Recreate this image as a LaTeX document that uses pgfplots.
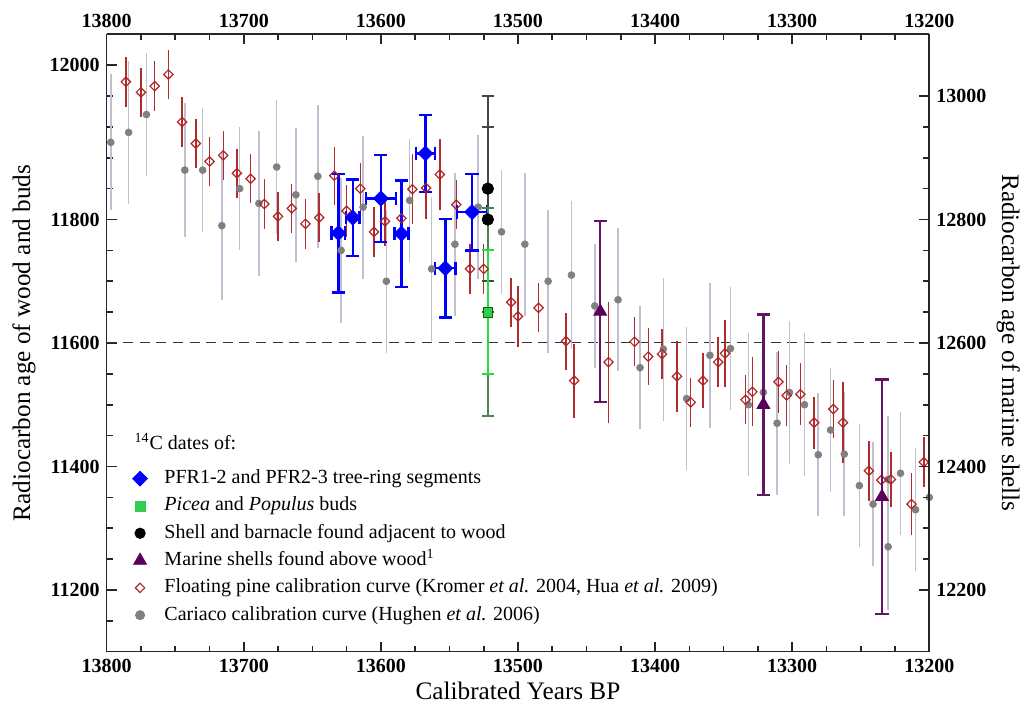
\documentclass[border=0pt]{standalone}
\usepackage{pgfplots}
\pgfplotsset{compat=1.18}
\usepackage{fontspec}
\setmainfont{Liberation Serif}

\definecolor{pinered}{RGB}{178,34,34}
\definecolor{pinebar}{RGB}{175,45,45}
\definecolor{cargray}{RGB}{128,128,128}
\definecolor{carbar}{RGB}{192,192,208}
\definecolor{pfrblue}{RGB}{0,0,255}
\definecolor{budgreen}{RGB}{50,205,80}
\definecolor{budedge}{RGB}{0,110,0}
\definecolor{budbar}{RGB}{40,220,70}
\definecolor{budbardark}{RGB}{80,130,80}
\definecolor{shellbar}{RGB}{70,70,70}
\definecolor{marine}{RGB}{90,0,90}
\definecolor{marinebar}{RGB}{100,20,100}

\pgfplotsset{
  calaxis/.style={
    at={(0pt,0pt)}, anchor=south west,
    width=411.3pt, height=308.7pt, scale only axis,
    x dir=reverse, xmin=13200, xmax=13800,
    xtick={13200,13300,...,13800}, minor x tick num=3,
    scaled x ticks=false, scaled y ticks=false,
    tick align=inside, major tick length=5pt, minor tick length=3pt,
    axis line style={line width=0.8pt, black!85},
    tick style={line width=0.8pt, black!85},
    tick label style={font=\fontsize{10}{12}\selectfont\bfseries},
    /pgf/number format/1000 sep={},
    /pgf/number format/assume math mode=true,
  },
}

\begin{document}
\begin{tikzpicture}
\useasboundingbox (-53.35pt,-26.15pt) rectangle (457.15pt,325.85pt);

\begin{axis}[calaxis,
  ymin=11100, ymax=12100,
  axis x line*=bottom, axis y line*=left,
  ytick={11200,11400,11600,11800,12050},
  yticklabels={11200,11400,11600,11800,12000},
  minor ytick={11150,11250,11300,11350,11450,11500,11550,11650,11700,11750,11850,11900,11950,12000},
  xlabel={Calibrated Years BP},
  ylabel={Radiocarbon age of wood and buds},
  every axis x label/.style={at={([yshift=-24pt]rel axis cs:0.5,0)}, anchor=base,
    font=\fontsize{12.6}{15}\selectfont},
  every axis y label/.style={at={([xshift=-38.3pt]rel axis cs:0,0.5)}, rotate=90, anchor=base,
    font=\fontsize{12.6}{15}\selectfont},
  legend style={at={(rel axis cs:0.0299,0.2987)}, anchor=north west, draw=none, fill=none,
    inner sep=0pt, font=\fontsize{10}{12}\selectfont, row sep=2.65pt, column sep=8pt,
    nodes={inner sep=0pt, text height=8pt, text depth=3pt}},
  legend cell align=left,
  legend image code/.code={\path (-4pt,-3pt) (4pt,3pt);
    \draw[#1] plot coordinates {(0pt,0pt)};},
]
% legend entries
\addlegendimage{only marks, mark=square*, mark size=2.6pt, mark options={rotate=45, fill=pfrblue, draw=pfrblue}}
\addlegendentry{PFR1-2 and PFR2-3 tree-ring segments}
\addlegendimage{only marks, mark=square*, mark size=2.5pt, mark options={fill=budgreen, draw=budgreen}}
\addlegendentry{\textit{Picea} and \textit{Populus} buds}
\addlegendimage{only marks, mark=*, mark size=2.6pt, mark options={fill=black, draw=black}}
\addlegendentry{Shell and barnacle found adjacent to wood}
\addlegendimage{only marks, mark=triangle*, mark size=3.7pt, mark options={fill=marine, draw=marine}}
\addlegendentry{Marine shells found above wood\textsuperscript{1}}
\addlegendimage{only marks, mark=square, mark size=1.65pt, mark options={rotate=45, draw=pinered, line width=0.6pt}}
\addlegendentry{Floating pine calibration curve (Kromer \textit{et al.} 2004, Hua \textit{et al.} 2009)}
\addlegendimage{only marks, mark=*, mark size=2.3pt, mark options={fill=cargray, draw=cargray}}
\addlegendentry{Cariaco calibration curve (Hughen \textit{et al.} 2006)}

% 11600 reference line
\addplot[forget plot, black!80, line width=0.5pt, dash pattern=on 5pt off 3.3pt]
  coordinates {(13800,11600) (13200,11600)};

% Cariaco calibration curve
\addplot[forget plot, only marks, mark=*, mark size=1.7pt, color=cargray,
  error bars/.cd, y dir=both, y explicit, error mark=none,
  error bar style={line width=0.8pt, carbar}]
  coordinates {
  (13797,11925) +- (0,110) (13784,11941) +- (0,116) (13771,11970) +- (0,100)
  (13743,11880) +- (0,108) (13730,11880) +- (0,100) (13716,11790) +- (0,120)
  (13703,11850) +- (0,100) (13689,11826) +- (0,117) (13676,11885) +- (0,108)
  (13662,11840) +- (0,109) (13646,11870) +- (0,116) (13629,11750) +- (0,117)
  (13613,11820) +- (0,116) (13596,11700) +- (0,116) (13579,11831) +- (0,100)
  (13563,11720) +- (0,116) (13546,11760) +- (0,116) (13529,11820) +- (0,117)
  (13512,11780) +- (0,100) (13495,11760) +- (0,116) (13478,11700) +- (0,116)
  (13461,11710) +- (0,120) (13444,11660) +- (0,100) (13427,11670) +- (0,116)
  (13411,11560) +- (0,100) (13394,11590) +- (0,116) (13377,11510) +- (0,116)
  (13360,11580) +- (0,117) (13345,11591) +- (0,100) (13332,11500) +- (0,116)
  (13321,11520) +- (0,100) (13311,11470) +- (0,116) (13302,11520) +- (0,116)
  (13291,11500) +- (0,116) (13281,11419) +- (0,100) (13272,11459) +- (0,100)
  (13262,11420) +- (0,100) (13251,11369) +- (0,100) (13241,11339) +- (0,100)
  (13230,11379) +- (0,102) (13230,11270) +- (0,102) (13221,11389) +- (0,100)
  (13210,11330) +- (0,100) (13200,11350) +- (0,100)
  };

% Floating pine calibration curve
\addplot[forget plot, only marks, mark=square, mark size=1.65pt,
  mark options={rotate=45, draw=pinered, line width=0.6pt},
  error bars/.cd, y dir=both, y explicit, error mark=none,
  error bar style={line width=0.7pt, pinebar}]
  coordinates {
  (13786,12023) +- (0,40) (13775,12006) +- (0,40) (13765,12016) +- (0,40)
  (13755,12035) +- (0,40) (13745,11958) +- (0,40) (13735,11923) +- (0,40)
  (13725,11894) +- (0,40) (13715,11904) +- (0,40) (13705,11875) +- (0,40)
  (13695,11866) +- (0,40) (13685,11825) +- (0,40) (13675,11805) +- (0,40)
  (13665,11818) +- (0,40) (13655,11793) +- (0,40) (13645,11803) +- (0,40)
  (13634,11871) +- (0,47) (13625,11814) +- (0,42) (13615,11850) +- (0,41)
  (13605,11780) +- (0,40) (13597,11797) +- (0,40) (13585,11802) +- (0,40)
  (13577,11849) +- (0,57) (13567,11851) +- (0,50) (13557,11873) +- (0,58)
  (13545,11824) +- (0,40) (13535,11720) +- (0,40) (13525,11720) +- (0,40)
  (13505,11666) +- (0,40) (13500,11643) +- (0,50) (13485,11657) +- (0,40)
  (13465,11603) +- (0,46) (13459,11539) +- (0,60) (13434,11569) +- (0,98)
  (13415,11602) +- (0,40) (13405,11578) +- (0,46) (13395,11582) +- (0,40)
  (13384,11546) +- (0,58) (13374,11504) +- (0,40) (13365,11539) +- (0,45)
  (13354,11569) +- (0,40) (13349,11583) +- (0,55) (13334,11508) +- (0,40)
  (13329,11521) +- (0,56) (13310,11537) +- (0,50) (13304,11515) +- (0,50)
  (13294,11517) +- (0,50) (13284,11471) +- (0,42) (13270,11493) +- (0,47)
  (13263,11471) +- (0,66) (13244,11393) +- (0,49) (13235,11378) +- (0,40)
  (13228,11379) +- (0,45) (13213,11339) +- (0,50) (13204,11407) +- (0,40)
  };

% PFR tree-ring segments
\addplot[forget plot, only marks, mark=square*, mark size=2.6pt,
  mark options={rotate=45, fill=pfrblue, draw=pfrblue},
  error bars/.cd, x dir=both, x explicit, y dir=both, y explicit,
  error bar style={line width=1.2pt, pfrblue},
  error mark options={rotate=90, mark size=3.3pt, line width=1.2pt, draw=pfrblue}]
  coordinates {
  (13631,11778) +- (5,96) (13620.5,11803) +- (5,62) (13600,11834) +- (11,70)
  (13585,11777) +- (5,86) (13567.5,11907) +- (7,62) (13553,11721) +- (7.5,80)
  (13533.5,11812) +- (11,62)
  };

% shell and barnacle: bars underneath
\addplot[forget plot, only marks, mark=*, mark size=2.8pt, color=black,
  error bars/.cd, y dir=both, y explicit,
  error bar style={line width=1pt, shellbar},
  error mark options={rotate=90, mark size=3pt, line width=1pt, draw=shellbar}]
  coordinates {(13522,11850) +- (0,150) (13522,11800) +- (0,150)};

% Picea and Populus buds
\addplot[forget plot, only marks, mark=square*, mark size=2.4pt,
  mark options={fill=budgreen, draw=budedge},
  error bars/.cd, y dir=both, y explicit,
  error bar style={line width=1pt, budbardark},
  error mark options={rotate=90, mark size=3pt, line width=1pt, draw=budbardark}]
  coordinates {(13522,11650) +- (0,168)};
\addplot[forget plot, only marks, mark=square*, mark size=2.4pt,
  mark options={fill=budgreen, draw=budedge},
  error bars/.cd, y dir=both, y explicit,
  error bar style={line width=1pt, budbar},
  error mark options={rotate=90, mark size=3pt, line width=1pt, draw=budbar}]
  coordinates {(13522,11650) +- (0,100)};

% shell and barnacle: markers on top
\addplot[forget plot, only marks, mark=*, mark size=2.8pt, color=black]
  coordinates {(13522,11850) (13522,11800)};

\node[anchor=base west, inner sep=0pt, font=\fontsize{10}{12}\selectfont]
  at (axis cs:13779.9,11426.7) {\textsuperscript{14}C dates of:};
\end{axis}

\begin{axis}[calaxis,
  ymin=12100, ymax=13100,
  axis x line*=top, axis y line*=right,
  ytick={12200,12400,...,13000}, minor y tick num=3,
  ylabel={Radiocarbon age of marine shells},
  every axis y label/.style={at={([xshift=36.4pt]rel axis cs:1,0.5)}, rotate=-90, anchor=base,
    font=\fontsize{12.6}{15}\selectfont},
]
% marine shells (right axis)
\addplot[only marks, mark=triangle*, mark size=3.7pt,
  mark options={fill=marine, draw=marine},
  error bars/.cd, y dir=both, y explicit,
  error bar style={line width=1.2pt, marinebar},
  error mark options={rotate=90, mark size=3.3pt, line width=1.2pt, draw=marinebar}]
  coordinates {(13440,12651) +- (0,147) (13321,12500) +- (0,146) (13234.5,12351) +- (0,190)};
\end{axis}
\end{tikzpicture}
\end{document}
